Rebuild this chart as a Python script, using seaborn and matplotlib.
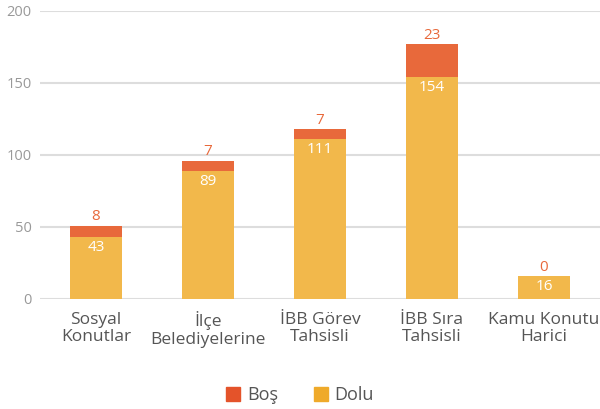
import numpy as np
import pandas as pd
import matplotlib
matplotlib.use("Agg")
import matplotlib.pyplot as plt
import seaborn as sns
from matplotlib.patches import Patch

# ── Data ──────────────────────────────────────────────────────────────────────
categories = ["Sosyal\nKonutlar", "İlçe\nBelediyelerine", "İBB Görev\nTahsisli",
              "İBB Sıra\nTahsisli", "Kamu Konutu\nHarici"]
dolu = [43, 89, 111, 154, 16]
bos  = [8, 7, 7, 23, 0]

DOLU_C = "#F2B84B"
BOS_C  = "#E8693B"

df = pd.DataFrame({"kategori": categories, "Dolu": dolu, "Boş": bos})
df["Toplam"] = df["Dolu"] + df["Boş"]

sns.set_style("white")
plt.rcParams["font.family"] = ["Open Sans", "DejaVu Sans"]

fig = plt.figure(figsize=(6, 4.09), dpi=100)
ax = fig.add_axes([40 / 600, 1 - 299 / 409, 1 - 40 / 600, (299 - 11) / 409])

# stacked: total first (Boş colour), then Dolu on top of it
sns.barplot(data=df, x="kategori", y="Toplam", color=BOS_C, width=0.47,
            saturation=1, linewidth=0, ax=ax, zorder=3)
sns.barplot(data=df, x="kategori", y="Dolu", color=DOLU_C, width=0.47,
            saturation=1, linewidth=0, ax=ax, zorder=4)

ax.set_ylim(0, 200)
ax.set_xlim(-0.5, len(categories) - 0.5)
ax.set_yticks([0, 50, 100, 150, 200])
ax.yaxis.grid(True, color="#DDDDDD", linewidth=1.5, zorder=0)
ax.set_axisbelow(True)
for s in ax.spines.values():
    s.set_visible(False)
ax.set_xlabel("")
ax.set_ylabel("")
ax.tick_params(axis="y", length=0, labelsize=10.5, labelcolor="#999999", pad=6)
ax.tick_params(axis="x", length=0, labelsize=12.5, labelcolor="#555555", pad=9)
for lbl in ax.get_xticklabels():
    lbl.set_linespacing(1.1)

# value labels
for i, (d, b) in enumerate(zip(dolu, bos)):
    ax.text(i, d + b + 1, str(b), ha="center", va="bottom",
            color="#E8693B", fontsize=11, zorder=5)
    ax.text(i, d - 2, str(d), ha="center", va="top",
            color="white", fontsize=11, zorder=5)

handles = [Patch(color="#E4532A", label="Boş"), Patch(color="#EFAA2A", label="Dolu")]
fig.legend(handles=handles, loc="center", bbox_to_anchor=(0.5, 1 - 395 / 409),
           ncol=2, frameon=False, fontsize=13, handlelength=0.8,
           handleheight=0.8, handletextpad=0.35, columnspacing=2.0,
           labelcolor="#555555")

fig.savefig("out.png", dpi=100)
